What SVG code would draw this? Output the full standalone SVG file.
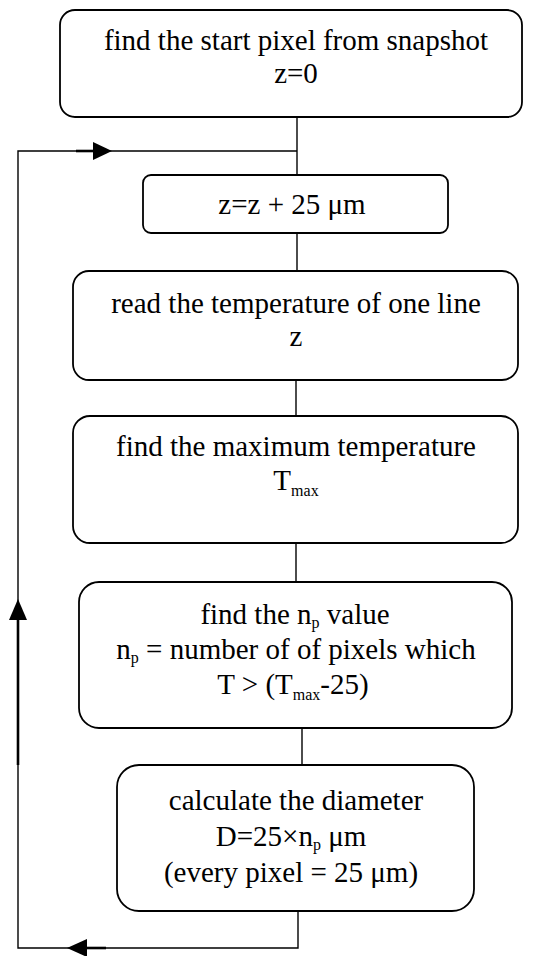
<svg xmlns="http://www.w3.org/2000/svg" width="547" height="956" viewBox="0 0 547 956">
<style>
.box{fill:#fff;stroke:#000;stroke-width:1.8}
.t{font-family:"Liberation Serif","Times New Roman",serif;font-size:29px;fill:#000;text-anchor:middle}
.sub{font-size:16px}
.c{fill:none;stroke:#000;stroke-width:1.4}
.th{fill:none;stroke:#000;stroke-width:2.6}
.ah{fill:#000;stroke:none}
</style>
<rect width="547" height="956" fill="#fff"/>
<g id="connectors">
<line class="c" x1="297" y1="117" x2="297" y2="175"/>
<polyline class="c" points="297,151 18,151 18,948 298,948 298,911"/>
<line class="th" x1="76" y1="151" x2="95" y2="151"/>
<polygon class="ah" points="112,151 93,142 93,160"/>
<line class="th" x1="87" y1="948" x2="106" y2="948"/>
<polygon class="ah" points="67,948 87,939 87,957"/>
<line class="th" x1="18" y1="618" x2="18" y2="765"/>
<polygon class="ah" points="18,599 9,620 27,620"/>
<line class="c" x1="297" y1="233" x2="297" y2="271"/>
<line class="c" x1="296" y1="380" x2="296" y2="416"/>
<line class="c" x1="296" y1="543" x2="296" y2="582"/>
<line class="c" x1="302" y1="728" x2="302" y2="765"/>
</g>
<g id="n1">
<rect class="box" x="60" y="10" width="462" height="107" rx="15"/>
<text class="t" x="296" y="50">find the start pixel from snapshot</text>
<text class="t" x="296" y="83">z=0</text>
</g>
<g id="n2">
<rect class="box" x="143" y="175" width="305" height="58" rx="8"/>
<text class="t" x="292" y="214">z=z + 25 μm</text>
</g>
<g id="n3">
<rect class="box" x="73" y="271" width="445" height="109" rx="16"/>
<text class="t" x="296" y="313">read the temperature of one line</text>
<text class="t" x="296" y="346">z</text>
</g>
<g id="n4">
<rect class="box" x="73" y="416" width="445" height="127" rx="17"/>
<text class="t" x="296" y="456">find the maximum temperature</text>
<text class="t" x="296" y="490">T<tspan class="sub" dy="6">max</tspan></text>
</g>
<g id="n5">
<rect class="box" x="79" y="582" width="433" height="146" rx="20"/>
<text class="t" x="295" y="624">find the n<tspan class="sub" dy="4">p</tspan><tspan dy="-4"> value</tspan></text>
<text class="t" x="296" y="659">n<tspan class="sub" dy="4">p</tspan><tspan dy="-4"> = number of of pixels which</tspan></text>
<text class="t" x="293" y="694">T &gt; (T<tspan class="sub" dy="6">max</tspan><tspan dy="-6">-25)</tspan></text>
</g>
<g id="n6">
<rect class="box" x="117" y="765" width="357" height="146" rx="22"/>
<text class="t" x="296" y="810">calculate the diameter</text>
<text class="t" x="291" y="846">D=25×n<tspan class="sub" dy="4">p</tspan><tspan dy="-4"> μm</tspan></text>
<text class="t" x="291" y="882">(every pixel = 25 μm)</text>
</g>
</svg>
